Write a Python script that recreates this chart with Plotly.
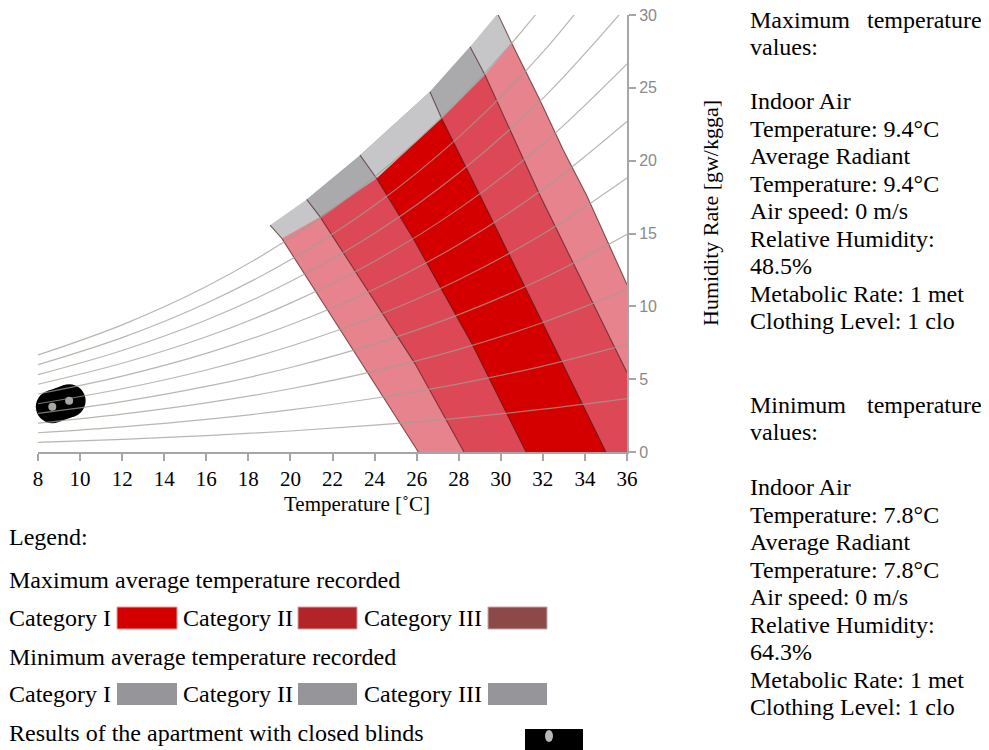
import plotly.graph_objects as go

# ---------------- data ----------------
# relative-humidity curves (humidity ratio g/kg at the listed temperatures)
rh_T = [8, 12, 16, 20, 24, 28, 32, 36]
rh_curves = {
    "10%": [0.66, 0.86, 1.12, 1.44, 1.84, 2.33, 2.94, 3.67],
    "20%": [1.32, 1.73, 2.24, 2.89, 3.69, 4.68, 5.90, 7.39],
    "30%": [1.98, 2.60, 3.37, 4.34, 5.55, 7.04, 8.89, 11.15],
    "40%": [2.65, 3.46, 4.50, 5.80, 7.42, 9.43, 11.91, 14.95],
    "50%": [3.31, 4.34, 5.63, 7.26, 9.30, 11.83, 14.96, 18.81],
    "60%": [3.98, 5.21, 6.77, 8.74, 11.19, 14.25, 18.04, 22.70],
    "70%": [4.65, 6.09, 7.91, 10.22, 13.10, 16.69, 21.15, 26.65],
    "80%": [5.31, 6.97, 9.06, 11.70, 15.01, 19.15, 24.28, 30.64],
    "90%": [5.99, 7.85, 10.21, 13.20, 16.94, 21.62, 27.45, 34.69],
    "100%": [6.66, 8.73, 11.36, 14.70, 18.88, 24.12, 30.65, 38.78],
}

# upper edge of the grey (minimum) zones: points on the six boundaries
# order: outer-left, II-left, I-left, I-right, II-right, outer-right
cap_T = [19.03, 20.77, 23.31, 26.63, 28.54, 29.85]
cap_W = [15.57, 17.34, 20.38, 24.73, 27.82, 30.10]
# upper edge of the red (maximum) zones on the same six boundaries
top_T = [19.59, 21.41, 24.10, 27.19, 29.25, 30.52]
top_W = [14.66, 16.14, 18.78, 22.90, 25.88, 28.06]

# lower parts of the six boundaries (below the red upper edge)
outer_left_T = [26.08]
outer_left_W = [0.0]
cat2_left_T = [25.92, 28.25]
cat2_left_W = [6.07, 0.0]
cat1_left_T = [25.83, 27.11, 28.62, 31.20]
cat1_left_W = [14.68, 11.33, 7.45, 0.0]
cat1_right_T = [29.01, 31.15, 32.97, 35.00]
cat1_right_W = [17.63, 11.33, 6.07, 0.0]
cat2_right_T = [31.86, 36.0, 36.0]
cat2_right_W = [17.63, 5.45, 0.0]
outer_right_T = [31.86, 32.97, 34.08, 36.0, 36.0]
outer_right_W = [24.16, 20.73, 17.63, 11.50, 0.0]

# results of the apartment with closed blinds
blind_T = [8.68, 9.48]
blind_W = [3.11, 3.52]

x_ticks = [8, 10, 12, 14, 16, 18, 20, 22, 24, 26, 28, 30, 32, 34, 36]
y_ticks = [0, 5, 10, 15, 20, 25, 30]

right_text_max = ["values:", "", "Indoor Air", "Temperature: 9.4°C", "Average Radiant",
                  "Temperature: 9.4°C", "Air speed: 0 m/s", "Relative Humidity:",
                  "48.5%", "Metabolic Rate: 1 met", "Clothing Level: 1 clo"]
right_text_min = ["values:", "", "Indoor Air", "Temperature: 7.8°C", "Average Radiant",
                  "Temperature: 7.8°C", "Air speed: 0 m/s", "Relative Humidity:",
                  "64.3%", "Metabolic Rate: 1 met", "Clothing Level: 1 clo"]

# ---------------- styles ----------------
SERIF = "Liberation Serif, Times New Roman, serif"
SANS = "Liberation Sans, Arial, sans-serif"
col_outer = "#e6838d"
col_cat2 = "#dc4855"
col_cat1 = "#d40000"
grey_light = "#c6c6c8"
grey_dark = "#aaaaad"

boundaries = [
    (outer_left_T, outer_left_W),
    (cat2_left_T, cat2_left_W),
    (cat1_left_T, cat1_left_W),
    (cat1_right_T, cat1_right_W),
    (cat2_right_T, cat2_right_W),
    (outer_right_T, outer_right_W),
]


def zone(i_left, i_right, upT, upW):
    """polygon between boundary i_left and i_right with the given upper edge"""
    xs = list(upT[i_left:i_right + 1])
    ys = list(upW[i_left:i_right + 1])
    if upT is cap_T:
        xs.append(top_T[i_right]); ys.append(top_W[i_right])
    rT, rW = boundaries[i_right]
    xs += rT; ys += rW
    lT, lW = boundaries[i_left]
    xs += lT[::-1]; ys += lW[::-1]
    if upT is cap_T:
        xs.append(top_T[i_left]); ys.append(top_W[i_left])
    xs.append(xs[0]); ys.append(ys[0])
    return xs, ys


fig = go.Figure()

# grey zones (minimum)
for (il, ir, col) in [(0, 5, grey_light), (1, 4, grey_dark), (2, 3, grey_light)]:
    xs, ys = zone(il, ir, cap_T, cap_W)
    fig.add_trace(go.Scatter(x=xs, y=ys, mode="lines", fill="toself", fillcolor=col,
                             line=dict(width=0), hoverinfo="skip", showlegend=False))
# red zones (maximum)
for (il, ir, col) in [(0, 5, col_outer), (1, 4, col_cat2), (2, 3, col_cat1)]:
    xs, ys = zone(il, ir, top_T, top_W)
    fig.add_trace(go.Scatter(x=xs, y=ys, mode="lines", fill="toself", fillcolor=col,
                             line=dict(width=0), hoverinfo="skip", showlegend=False))

# boundary lines
for i, (bT, bW) in enumerate(boundaries):
    keep = [not (t >= 36 and w == 0 and i >= 4) for t, w in zip(bT, bW)]
    xs = [cap_T[i], top_T[i]] + [t for t, k in zip(bT, keep) if k]
    ys = [cap_W[i], top_W[i]] + [w for w, k in zip(bW, keep) if k]
    fig.add_trace(go.Scatter(x=xs, y=ys, mode="lines",
                             line=dict(color="rgba(70,25,25,0.65)", width=1.1),
                             hoverinfo="skip", showlegend=False))

# closed-blinds blob
fig.add_trace(go.Scatter(x=blind_T, y=blind_W, mode="lines+markers",
                         line=dict(color="black", width=33),
                         marker=dict(size=33, color="black"),
                         cliponaxis=False, hoverinfo="skip", showlegend=False))

# relative humidity curves
for name, vals in rh_curves.items():
    fig.add_trace(go.Scatter(x=rh_T, y=vals, mode="lines", line_shape="spline",
                             line=dict(color="rgba(160,158,150,0.75)", width=1.2),
                             hoverinfo="skip", showlegend=False, name=name))

fig.add_trace(go.Scatter(x=blind_T, y=blind_W, mode="markers",
                         marker=dict(size=8, color="#a8a8a8"),
                         cliponaxis=False, hoverinfo="skip", showlegend=False))

# ---------------- layout ----------------
# the page body adds an 8px margin, so the figure is drawn 8px smaller and
# all positions below are given in page pixels minus that offset
OFF = 8
W_FIG, H_FIG = 989 - OFF, 750 - OFF
L, R, TOP, BOT = 38 - OFF, 627 - OFF, 15 - OFF, 452 - OFF


def px(x):
    return (x - OFF - L) / (R - L)


def py(y):
    return (BOT - (y - OFF)) / (BOT - TOP)


ann = []


def text(s, x, y, size=24, anchor="left", family=SERIF, angle=0):
    ann.append(dict(text=s, x=px(x), y=py(y), xref="paper", yref="paper",
                    xanchor=anchor, yanchor="middle", showarrow=False, textangle=angle,
                    borderpad=0,
                    font=dict(family=family, size=size, color="black")))


text("Temperature [˚C]", 357, 504, size=21, anchor="center")
text("Humidity Rate [gw/kgga]", 710, 213, size=22, anchor="center", angle=-90)

# right text blocks
text("Maximum", 749, 20)
text("temperature", 983, 20, anchor="right")
ys_max = [47, 74, 101, 129, 156, 184, 211, 239, 266, 294, 321]
for s, y in zip(right_text_max, ys_max):
    if s:
        text(s, 749, y)
text("Minimum", 749, 405)
text("temperature", 983, 405, anchor="right")
ys_min = [432, 460, 487, 515, 542, 570, 597, 625, 652, 680, 707]
for s, y in zip(right_text_min, ys_min):
    if s:
        text(s, 749, y)

# legend block
text("Legend:", 8, 537)
text("Maximum average temperature recorded", 8, 580)
text("Category I", 8, 618)
text("Category II", 182, 618)
text("Category III", 363, 618)
text("Minimum average temperature recorded", 8, 657)
text("Category I", 8, 694)
text("Category II", 182, 694)
text("Category III", 363, 694)
text("Results of the apartment with closed blinds", 8, 733)

shapes = []


def rect(x0, y0, x1, y1, col, line=None):
    shapes.append(dict(type="rect", xref="paper", yref="paper",
                       x0=px(x0), x1=px(x1), y0=py(y1), y1=py(y0),
                       fillcolor=col, line=dict(width=1 if line else 0, color=line or col)))


rect(117, 607, 177, 629, "#d40000", "#e7a0a0")
rect(298, 607, 357, 629, "#b22428", "#d9a0a0")
rect(488, 607, 547, 629, "#8d4848", "#c9a5a5")
rect(117, 683, 177, 705, "#96969a")
rect(298, 683, 357, 705, "#96969a")
rect(488, 683, 547, 705, "#96969a")
rect(525, 729, 583, 752, "black")
shapes.append(dict(type="circle", xref="paper", yref="paper",
                   x0=px(545), x1=px(553), y0=py(742), y1=py(730),
                   fillcolor="#b8b8b8", line=dict(width=0)))

fig.update_layout(
    width=W_FIG, height=H_FIG,
    margin=dict(l=L, r=W_FIG - R, t=TOP, b=H_FIG - BOT, autoexpand=False),
    plot_bgcolor="white", paper_bgcolor="white",
    showlegend=False,
    annotations=ann, shapes=shapes,
    xaxis=dict(range=[8, 36], tickvals=x_ticks, ticktext=[str(v) for v in x_ticks],
               showline=True, linecolor="#a6a6a6", linewidth=2,
               ticks="outside", ticklen=7, tickwidth=2, tickcolor="#a6a6a6",
               tickfont=dict(family=SERIF, size=21, color="black"),
               ticklabeloverflow="allow", automargin=False,
               showgrid=False, zeroline=False),
    yaxis=dict(range=[0, 30], tickvals=y_ticks, side="right",
               showline=True, linecolor="#a6a6a6", linewidth=2,
               ticks="outside", ticklen=7, tickwidth=2, tickcolor="#a6a6a6",
               tickfont=dict(family=SANS, size=16, color="#8a8a8a"),
               ticklabeloverflow="allow", automargin=False,
               showgrid=False, zeroline=False),
)

fig.write_html("out.html")
